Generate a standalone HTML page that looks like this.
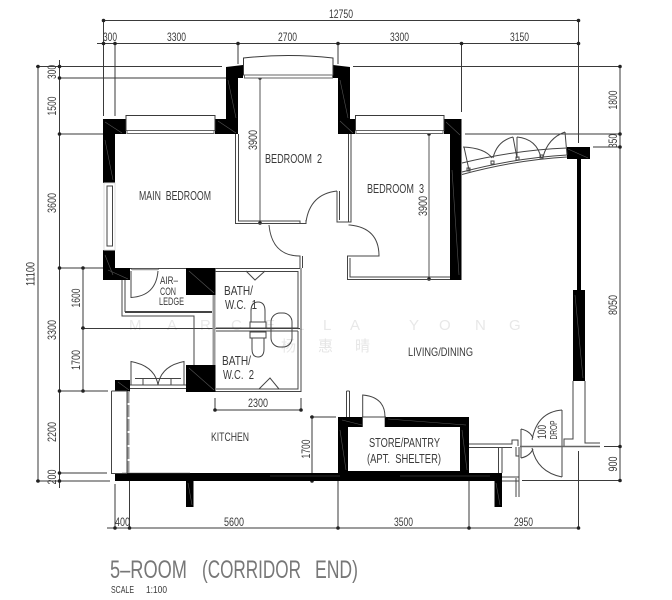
<!DOCTYPE html>
<html><head><meta charset="utf-8">
<style>html,body{margin:0;padding:0;background:#fff}svg{display:block}
text{font-family:"Liberation Sans","Noto Sans CJK SC",sans-serif;fill:#3a3a3a}</style></head>
<body>
<svg width="672" height="600" viewBox="0 0 672 600" xmlns="http://www.w3.org/2000/svg">
<!-- watermark -->
<text x="129 167 200 231 265 296 323 350 409 439 475 509" y="330" font-size="15" style="fill:#e8e8e8">MARCELLAYONG</text>
<text x="281" y="351" font-size="15" style="fill:#e6e6e6">杨</text>
<text x="318" y="351" font-size="15" style="fill:#e6e6e6">惠</text>
<text x="355" y="351" font-size="15" style="fill:#e6e6e6">晴</text>
<!-- dimension lines -->
<g stroke="#3a3a3a" stroke-width="1" fill="none">
<path d="M103.500 20.500H578.500M97 43.500H578.500M103.500 20V116M115 43V116M238 43V64M338 43V64M461.500 43V112M578.500 20V143"/>
<path d="M36 66.500H222M353 66.500H620M59 78H226M59 134H103M465 134H620M593 147H620M59 268H103M81 328.500H300M59 391H108M59 473H107M36 481H110M522 480.500H620M604 446.500H620"/>
<path d="M38 66V481M59.500 60V488M83 268V391M620 66V481"/>
<path d="M107 528H579M115 484V528M129.500 481V528M338 481V528M469 481V528M578.500 451V528"/>
<path d="M215 398V410M301 398V410M215 410H301M310 417H336M312 417V481"/>
<path d="M260 78V223M429 134V279" stroke="#555"/>
</g>
<g fill="#222">
<circle cx="103.500" cy="20.500" r="1.800"/><circle cx="578.500" cy="20.500" r="1.800"/>
<circle cx="103.500" cy="43.500" r="1.800"/><circle cx="115" cy="43.500" r="1.800"/><circle cx="238" cy="43.500" r="1.800"/><circle cx="338" cy="43.500" r="1.800"/><circle cx="461.500" cy="43.500" r="1.800"/><circle cx="578.500" cy="43.500" r="1.800"/>
<circle cx="38" cy="66.500" r="1.800"/><circle cx="59.500" cy="66.500" r="1.800"/><circle cx="59.500" cy="78" r="1.800"/><circle cx="59.500" cy="134" r="1.800"/><circle cx="59.500" cy="268" r="1.800"/><circle cx="83" cy="268" r="1.800"/><circle cx="83" cy="328" r="1.800"/><circle cx="59.500" cy="391" r="1.800"/><circle cx="83" cy="391" r="1.800"/><circle cx="59.500" cy="473" r="1.800"/><circle cx="59.500" cy="481" r="1.800"/><circle cx="38" cy="481" r="1.800"/>
<circle cx="620" cy="66.500" r="1.800"/><circle cx="620" cy="134" r="1.800"/><circle cx="620" cy="147" r="1.800"/><circle cx="620" cy="446.500" r="1.800"/><circle cx="620" cy="480.500" r="1.800"/>
<circle cx="115" cy="528" r="1.800"/><circle cx="129.500" cy="528" r="1.800"/><circle cx="338" cy="528" r="1.800"/><circle cx="469" cy="528" r="1.800"/><circle cx="578.500" cy="528" r="1.800"/>
<circle cx="215" cy="410" r="1.800"/><circle cx="301" cy="410" r="1.800"/><circle cx="312" cy="417" r="1.800"/><circle cx="312" cy="481" r="1.800"/>
<circle cx="260" cy="78" r="1.800"/><circle cx="260" cy="223" r="1.800"/><circle cx="429" cy="134" r="1.800"/><circle cx="429" cy="279" r="1.800"/>
</g>
<!-- solid walls -->
<g fill="#000">
<path d="M103 119H126V134H115V183H103Z"/>
<path d="M103 250H115V268H130V280H103Z"/>
<path d="M215 119H226V67L243 65V78H238V134H215Z"/>
<path d="M333 65L350 67V119H355V134H338V78H333Z"/>
<path d="M444 119H461.500V280H450V134H444Z"/>
<rect x="186" y="268" width="29.500" height="27"/>
<rect x="186" y="365" width="29.500" height="27"/>
<rect x="115" y="380" width="15" height="11.500"/>
<rect x="115" y="473" width="387" height="8"/>
<rect x="186" y="481" width="7.500" height="26"/>
<rect x="494.500" y="481" width="7.500" height="26"/>
<path fill-rule="evenodd" d="M338 417H469V473H338ZM348 427V471H460V427Z"/>
<rect x="567" y="147" width="23" height="12"/>
<rect x="577" y="159" width="4" height="131"/>
<rect x="573" y="290" width="12" height="91"/>
</g>
<g stroke="#555" stroke-width=".6" fill="none">
<path d="M105 122L122 133M105 140L113 180M105 255L113 275M108 270L128 279M218 121L236 133M228 80L236 118M340 121L353 133M340 80L348 118M446 122L460 135M452 170L459 275M189 271L214 293M189 368L214 390M118 382L129 390M188 483L192 505M496 483L500 505M342 420L362 425M388 419L466 425M340 430L346 470M462 430L467 470M568 149L588 158M575 295L583 378M122 473H190M270 476H340M400 476H490"/>
</g>
<rect x="362.700" y="416" width="22" height="12" fill="#fff"/>
<path d="M362 417H386" stroke="#444" stroke-width="1"/>
<!-- windows and thin walls -->
<g stroke="#3a3a3a" stroke-width="1" fill="#fff">
<rect x="126" y="115.500" width="89" height="15"/>
<rect x="127" y="130.500" width="87" height="3" stroke="#666"/>
<path d="M243.500 75V58Q288 53 333 58V75Z"/>
<rect x="244.500" y="75" width="88" height="3" stroke="#666"/>
<rect x="355.500" y="115.500" width="88.500" height="15"/>
<rect x="356" y="130.500" width="87" height="3" stroke="#666"/>
<rect x="104" y="183" width="11" height="67" stroke="#ddd"/>
<rect x="107" y="186" width="5.500" height="60" stroke="#444"/>
</g>
<g stroke="#444" stroke-width="1" fill="none">
<path d="M235.500 134V223.500H306V220M238.500 134V221H300V223M337 191V222H348.500V134M339.500 191V220M351 134V222H347"/>
<path d="M348.500 225H350Q379 228 379 256H347.500V279.500H450M350 258V277H450"/>
<path d="M269 225Q272 256 300 256V268M302.500 256V268"/>
<path d="M306 222Q310 194 337 191"/>
<!-- bath -->
<path d="M130 268.500H186M215 268.500H300M215 271.500H298V328H216M301 268V391.500H215.500M298 331H216M298 331V389H216"/>
<path d="M246 271L255 280L265 271M259 389L270 378L279 389"/>
<path d="M131 271V297.500Q156 296 158 271M131 269H159"/>
<path d="M122 280V316H194V365M125 280V311.500H212M125 312.500H212"/>
<path d="M131 385V361.500Q155 366 158 385Q161 366 184 361.500V385"/>
<path d="M130 385H186M130 388.500H186M135 378.500H181M143 379V385M171 379V385"/>
<path d="M111.500 391V473.500H127M111.500 391H127M127 391.500V473"/>
<path d="M346.500 391V417M349.500 391V417M346.500 391H349.500"/>
<path d="M362.700 417V395Q385 397 385 417"/>
<path d="M469 444H512V440H518V446M469 447.500H512M498.500 447.500V473M502 447.500V473"/>
<path d="M521 429V458M521 429Q530 431 533 438M521 458Q530 456 533 449"/>
<path d="M562 410V477M562 410Q537 412 532 440M562 477Q537 472 532 448"/>
<path d="M516 447V456H519M519 447V497M516 478V497M502 477H519M502 481H519"/>
<path d="M573 381V439H564V446M585 381V443H600"/>
<path d="M251 322V311Q251 302 258 302Q265 302 265 311V322M250 322H266V328H250ZM250 332H266V338H250ZM252 338V349Q252 357 258 357Q264 357 264 349V338"/>
<rect x="271" y="313" width="21" height="34" rx="9"/>
<!-- curved bay -->
<path d="M462 163Q515 150 567 148"/>
<path d="M462 172Q515 158 567 155"/>
<path d="M462 174.500Q515 160 567 157"/>
<path d="M464 147L469 170M463 147Q485 148 492 158M513 137L517 158M493 158Q497 141 513 137M517 137V158M517 137Q537 139 541 158M565 132L567 155M543 157Q548 138 565 132"/>
<rect x="467" y="168" width="3" height="3"/><rect x="491" y="161" width="3" height="3"/><rect x="516" y="157" width="3" height="3"/><rect x="540" y="155" width="3" height="3"/>
</g>
<path d="M520 446.500H600" stroke="#666" stroke-width="1.500" fill="none"/>
<path d="M214 295V365" stroke="#999" stroke-width="3" fill="none"/>
<path d="M128.500 391V473" stroke="#999" stroke-width="2" stroke-dasharray="12 2" fill="none"/>
<path d="M132 269.500H158" stroke="#999" stroke-width="1.500" fill="none"/>
<!-- labels -->
<g font-size="11.500" lengthAdjust="spacingAndGlyphs">
<text x="329" y="18" textLength="24" lengthAdjust="spacingAndGlyphs">12750</text>
<text x="103" y="41" textLength="14" lengthAdjust="spacingAndGlyphs">300</text>
<text x="167" y="41" textLength="19" lengthAdjust="spacingAndGlyphs">3300</text>
<text x="278" y="41" textLength="19" lengthAdjust="spacingAndGlyphs">2700</text>
<text x="390" y="41" textLength="19" lengthAdjust="spacingAndGlyphs">3300</text>
<text x="510" y="41" textLength="19" lengthAdjust="spacingAndGlyphs">3150</text>
<text x="115" y="526" textLength="15" lengthAdjust="spacingAndGlyphs">400</text>
<text x="224" y="526" textLength="20" lengthAdjust="spacingAndGlyphs">5600</text>
<text x="394" y="526" textLength="19" lengthAdjust="spacingAndGlyphs">3500</text>
<text x="514" y="526" textLength="19" lengthAdjust="spacingAndGlyphs">2950</text>
<text x="248" y="407" textLength="20" lengthAdjust="spacingAndGlyphs">2300</text>
<g text-anchor="middle">
<text transform="translate(56 72) rotate(-90)" textLength="14" lengthAdjust="spacingAndGlyphs">300</text>
<text transform="translate(56 106) rotate(-90)" textLength="19" lengthAdjust="spacingAndGlyphs">1500</text>
<text transform="translate(56 203) rotate(-90)" textLength="20" lengthAdjust="spacingAndGlyphs">3600</text>
<text transform="translate(34.500 274) rotate(-90)" textLength="24" lengthAdjust="spacingAndGlyphs">11100</text>
<text transform="translate(80 298) rotate(-90)" textLength="19" lengthAdjust="spacingAndGlyphs">1600</text>
<text transform="translate(56 330) rotate(-90)" textLength="20" lengthAdjust="spacingAndGlyphs">3300</text>
<text transform="translate(80 360) rotate(-90)" textLength="20" lengthAdjust="spacingAndGlyphs">1700</text>
<text transform="translate(56 432) rotate(-90)" textLength="20" lengthAdjust="spacingAndGlyphs">2200</text>
<text transform="translate(56 477) rotate(-90)" textLength="15" lengthAdjust="spacingAndGlyphs">200</text>
<text transform="translate(257 140) rotate(-90)" textLength="20" lengthAdjust="spacingAndGlyphs">3900</text>
<text transform="translate(427 206) rotate(-90)" textLength="20" lengthAdjust="spacingAndGlyphs">3900</text>
<text transform="translate(310 449) rotate(-90)" textLength="19" lengthAdjust="spacingAndGlyphs">1700</text>
<text transform="translate(617 100) rotate(-90)" textLength="19" lengthAdjust="spacingAndGlyphs">1800</text>
<text transform="translate(617 141) rotate(-90)" textLength="14" lengthAdjust="spacingAndGlyphs">350</text>
<text transform="translate(617 305) rotate(-90)" textLength="20" lengthAdjust="spacingAndGlyphs">8050</text>
<text transform="translate(617 464) rotate(-90)" textLength="15" lengthAdjust="spacingAndGlyphs">900</text>
<text transform="translate(546 432) rotate(-90)" textLength="14" lengthAdjust="spacingAndGlyphs">100</text>
<text transform="translate(557 430) rotate(-90)" font-size="10.500" textLength="19" lengthAdjust="spacingAndGlyphs">DROP</text>
</g>
</g>
<g font-size="13">
<text x="139" y="200" textLength="72" lengthAdjust="spacingAndGlyphs">MAIN&#160;&#160;BEDROOM</text>
<text x="265" y="163" textLength="57" lengthAdjust="spacingAndGlyphs">BEDROOM&#160;&#160;2</text>
<text x="367" y="193" textLength="57" lengthAdjust="spacingAndGlyphs">BEDROOM&#160;&#160;3</text>
<text x="160" y="284" font-size="11" textLength="18" lengthAdjust="spacingAndGlyphs">AIR–</text>
<text x="160" y="295" font-size="11" textLength="16" lengthAdjust="spacingAndGlyphs">CON</text>
<text x="159" y="305" font-size="11" textLength="25" lengthAdjust="spacingAndGlyphs">LEDGE</text>
<text x="224" y="295" textLength="29" lengthAdjust="spacingAndGlyphs">BATH/</text>
<text x="225" y="309" textLength="32" lengthAdjust="spacingAndGlyphs">W.C.&#160;&#160;1</text>
<text x="222" y="365" textLength="29" lengthAdjust="spacingAndGlyphs">BATH/</text>
<text x="223" y="379" textLength="31" lengthAdjust="spacingAndGlyphs">W.C.&#160;&#160;2</text>
<text x="211" y="441" font-size="12" textLength="38" lengthAdjust="spacingAndGlyphs">KITCHEN</text>
<text x="408" y="356" font-size="12" textLength="65" lengthAdjust="spacingAndGlyphs">LIVING/DINING</text>
<text x="369" y="447" textLength="71" lengthAdjust="spacingAndGlyphs">STORE/PANTRY</text>
<text x="367" y="463" textLength="74" lengthAdjust="spacingAndGlyphs">(APT.&#160;&#160;SHELTER)</text>
</g>
<g font-size="25" style="fill:#777">
<text x="110" y="578" textLength="77" lengthAdjust="spacingAndGlyphs" style="fill:#777">5–ROOM</text>
<text x="202" y="578" textLength="99" lengthAdjust="spacingAndGlyphs" style="fill:#777">(CORRIDOR</text>
<text x="315" y="578" textLength="43" lengthAdjust="spacingAndGlyphs" style="fill:#777">END)</text>
</g>
<text x="111" y="593" font-size="10.500" textLength="23" lengthAdjust="spacingAndGlyphs">SCALE</text>
<text x="146" y="593" font-size="10.500" textLength="21" lengthAdjust="spacingAndGlyphs">1:100</text>
</svg>
</body></html>
